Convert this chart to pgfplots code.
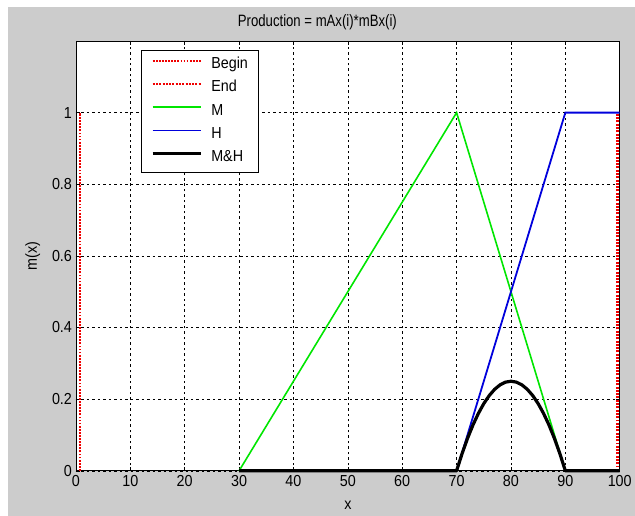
\documentclass[border=0pt]{standalone}
\usepackage{pgfplots}
\pgfplotsset{compat=1.18}
\usepackage{fontspec}
\setmainfont{Liberation Sans}[FakeStretch=0.9]
\newfontfamily\titlefont{Liberation Sans}[FakeStretch=0.8]
\usetikzlibrary{backgrounds}
\definecolor{figgray}{RGB}{204,204,204}
\definecolor{mgreen}{RGB}{0,230,0}
\definecolor{hblue}{RGB}{0,0,220}
\definecolor{bred}{RGB}{240,0,0}
\begin{document}
\begin{tikzpicture}
\begin{axis}[name=ax, scale only axis, width=544bp, height=430bp,
  xmin=0, xmax=100, ymin=0, ymax=1.2,
  xtick={0,10,...,100}, ytick={0,0.2,0.4,0.6,0.8,1},
  yticklabels={0,0.2,0.4,0.6,0.8,1},
  /pgf/number format/assume math mode=true,
  grid=major, grid style={black, dash pattern=on 2.5pt off 3pt, line width=0.5pt},
  axis background/.style={fill=white},
  axis line style={line width=0.7pt},
  tick align=inside, major tick length=4bp,
  tick style={black, line width=0.5pt},
  ticklabel style={font=\fontsize{16}{18}\selectfont},
  xticklabel style={yshift=-1.5bp},
  yticklabel style={xshift=-0.5bp},
  xlabel={x}, ylabel={m(x)},
  label style={font=\fontsize{16}{18}\selectfont},
  xlabel style={at={(axis description cs:0.5,-0.0907)}, anchor=base},
  ylabel style={at={(axis description cs:-0.0717,0.5)}, anchor=base},
  clip=false,
  legend style={at={(axis description cs:0.1195,0.979)}, anchor=north west, draw=black, fill=white,
    font=\fontsize{16}{18}\selectfont, row sep=9.3bp, inner xsep=10bp, inner ysep=7.5bp,
    nodes={inner sep=0pt, text height=11bp, text depth=3bp},
    /tikz/every odd column/.append style={column sep=9bp}},
  legend cell align=left,
  legend image code/.code={\draw[#1] (0bp,4bp) -- (48bp,4bp);},
]
\addplot[draw=bred, line width=2.2pt, dash pattern=on 1.8pt off 1.3pt] coordinates {(0.8,0) (0.8,1)};
\addlegendentry{Begin}
\addplot[draw=bred, line width=2.6pt, dash pattern=on 2pt off 1.3pt] coordinates {(99.6,0) (99.6,1)};
\addlegendentry{End}
\addplot[draw=mgreen, line width=1.6pt] coordinates {(30,0) (70,1) (90,0)};
\addlegendentry{M}
\addplot[draw=hblue, line width=1.8pt] coordinates {(70,0) (90,1) (100,1)};
\addlegendentry{H}
\addplot[draw=black, line width=3.2pt, line join=round] coordinates {
(30,0) (70,0) (71,0.0475) (72,0.09) (73,0.1275) (74,0.16) (75,0.1875) (76,0.21)
(77,0.2275) (78,0.24) (79,0.2475) (80,0.25) (81,0.2475) (82,0.24) (83,0.2275)
(84,0.21) (85,0.1875) (86,0.16) (87,0.1275) (88,0.09) (89,0.0475) (90,0) (100,0)};
\addlegendentry{M\&H}
\node[font=\titlefont\fontsize{16.5}{18}\selectfont, anchor=base, inner sep=0pt] at (axis description cs:0.444,1.0326) {Production = mAx(i)*mBx(i)};
\end{axis}
\begin{scope}[on background layer]
\fill[figgray] ([shift={(-68bp,-45bp)}]ax.south west) rectangle ([shift={(15bp,34bp)}]ax.north east);
\end{scope}
\path ([shift={(-76bp,-45bp)}]ax.south west) rectangle ([shift={(15bp,41bp)}]ax.north east);
\end{tikzpicture}
\end{document}
